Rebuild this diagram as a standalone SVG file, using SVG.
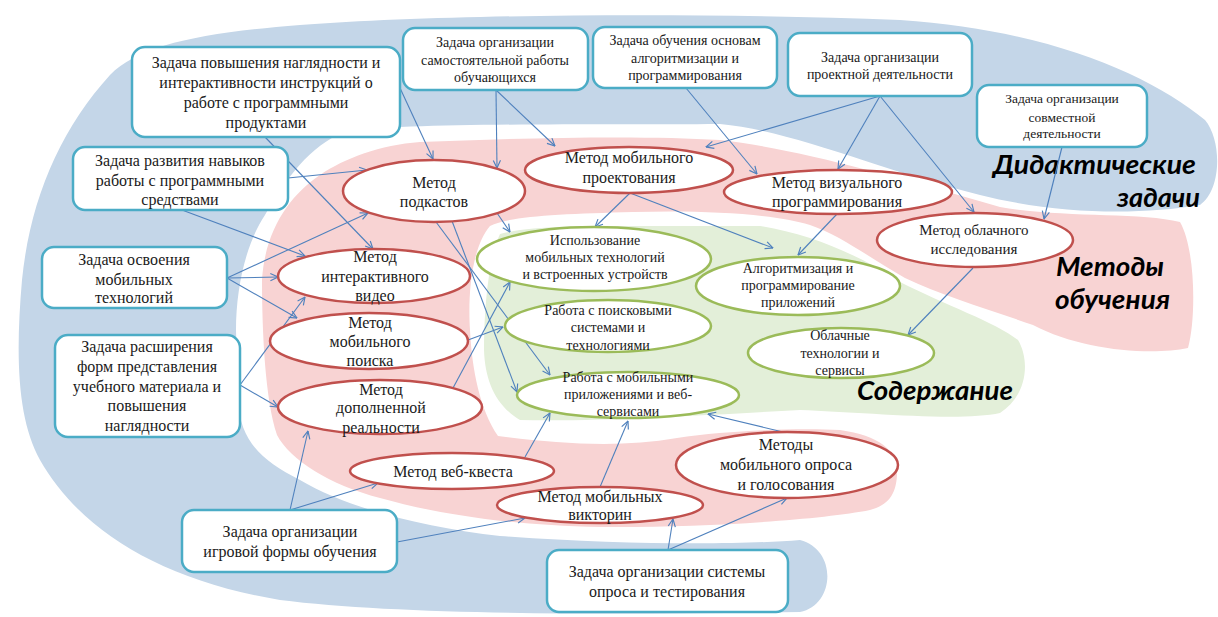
<svg xmlns="http://www.w3.org/2000/svg" width="1218" height="617" viewBox="0 0 1218 617">
<style>
.t{font-family:"Liberation Serif","Times New Roman",serif;fill:#1a1a1a;text-anchor:middle}
.s16{font-size:16px}.s15{font-size:15px}.s14{font-size:14px}.s13{font-size:13.5px}
.box{fill:#fff;stroke:#4bacc6;stroke-width:2.5}
.me{fill:#fff;stroke:#c0504d;stroke-width:2.5}
.co{fill:#fff;stroke:#9bbb59;stroke-width:2.5}
.lbl{font-family:Lato,"Open Sans",sans-serif;font-weight:bold;font-style:italic;font-size:26px;fill:#000}
.c{fill:none;stroke:#4f81bd;stroke-width:1.1;marker-end:url(#a)}
</style>
<defs>
<marker id="a" viewBox="0 0 10 10" refX="9.5" refY="5" markerWidth="9" markerHeight="9" markerUnits="userSpaceOnUse" orient="auto">
<path d="M1,1 L9.5,5 L1,9" fill="none" stroke="#4f81bd" stroke-width="1.3"/>
</marker>
</defs>
<g id="backgrounds">
<path id="bg-tasks" fill="#c4d6e8" d="M800,540 C740,545 620,545 500,536 C430,528 350,510 300,480 C260,460 240,440 238,400 L236,330 C236,290 245,245 265,215 C285,180 310,145 345,132 C400,122 600,125 720,124 C790,130 880,170 980,195 C1060,215 1140,215 1200,205 C1222,190 1222,140 1205,120 C1150,75 1050,30 900,20 C700,12 450,14 300,25 C200,33 140,45 110,75 C60,130 30,200 22,280 C15,360 18,420 40,460 C80,530 160,580 280,600 C400,615 600,615 800,612 C835,605 838,550 800,540 Z"/>
<path id="bg-methods" fill="#f8d3d3" d="M420,142 C520,138 640,135 720,140 C790,148 880,172 1000,207 C1060,218 1140,212 1180,222 C1196,250 1196,320 1188,348 C1150,356 1080,350 1033,325 C990,310 940,295 905,278 C870,258 840,235 810,225 C770,213 700,210 633,212 C560,214 510,216 490,226 C470,250 468,300 470,330 C472,370 480,410 498,436 C560,444 620,448 677,438 C730,430 800,428 840,430 C880,436 898,450 897,475 C896,495 888,505 870,510 C820,520 700,528 600,527 C500,525 430,512 380,498 C330,485 290,460 277,435 C265,400 262,330 262,280 C265,230 290,195 320,175 C345,158 380,145 420,142 Z"/>
<path id="bg-content" fill="#e3efd9" d="M500,234 C530,226 580,226 640,226 L760,226 C810,234 860,255 900,282 C945,305 995,322 1018,340 C1030,360 1028,395 1000,413 C960,422 860,412 800,410 C720,414 600,422 520,420 C495,405 485,380 484,350 C484,310 488,260 500,234 Z"/>
</g>
<g id="labels">
<text class="lbl" x="993" y="174" textLength="203" lengthAdjust="spacingAndGlyphs">Дидактические</text>
<text class="lbl" x="1117" y="207" textLength="83" lengthAdjust="spacingAndGlyphs">задачи</text>
<text class="lbl" x="1056" y="276" textLength="108" lengthAdjust="spacingAndGlyphs">Методы</text>
<text class="lbl" x="1055" y="309" textLength="115" lengthAdjust="spacingAndGlyphs">обучения</text>
<text class="lbl" x="857" y="400" textLength="156" lengthAdjust="spacingAndGlyphs">Содержание</text>
</g>
<g id="connectors">
<line class="c" x1="265" y1="137" x2="373" y2="249"/>
<line class="c" x1="400" y1="88" x2="433" y2="159"/>
<line class="c" x1="496" y1="90" x2="497" y2="168"/>
<line class="c" x1="496" y1="90" x2="555" y2="146"/>
<line class="c" x1="686" y1="88" x2="757" y2="174"/>
<line class="c" x1="880" y1="96" x2="706" y2="147"/>
<line class="c" x1="880" y1="96" x2="838" y2="169"/>
<line class="c" x1="880" y1="96" x2="974" y2="212"/>
<line class="c" x1="1062" y1="147" x2="1044" y2="219"/>
<line class="c" x1="288" y1="178" x2="367" y2="170"/>
<line class="c" x1="182" y1="210" x2="305" y2="256"/>
<line class="c" x1="227" y1="278" x2="368" y2="213"/>
<line class="c" x1="227" y1="278" x2="278" y2="277"/>
<line class="c" x1="227" y1="278" x2="297" y2="318"/>
<line class="c" x1="240" y1="385" x2="305" y2="297"/>
<line class="c" x1="240" y1="385" x2="278" y2="407"/>
<line class="c" x1="290" y1="510" x2="308" y2="431"/>
<line class="c" x1="290" y1="510" x2="378" y2="483"/>
<line class="c" x1="397" y1="542" x2="525" y2="518"/>
<line class="c" x1="668" y1="550" x2="673" y2="519"/>
<line class="c" x1="668" y1="550" x2="787" y2="498"/>
<line class="c" x1="497" y1="213" x2="510" y2="232"/>
<line class="c" x1="436" y1="222" x2="550" y2="375"/>
<line class="c" x1="452" y1="221" x2="517" y2="392"/>
<line class="c" x1="468" y1="340" x2="503" y2="327"/>
<line class="c" x1="453" y1="388" x2="510" y2="282"/>
<line class="c" x1="525" y1="457" x2="550" y2="413"/>
<line class="c" x1="600" y1="487" x2="628" y2="421"/>
<line class="c" x1="783" y1="432" x2="708" y2="414"/>
<line class="c" x1="630" y1="193" x2="595" y2="227"/>
<line class="c" x1="630" y1="193" x2="773" y2="248"/>
<line class="c" x1="837" y1="214" x2="798" y2="255"/>
<line class="c" x1="973" y1="268" x2="908" y2="335"/>
</g>
<g id="task-visibility">
<rect class="box" x="132" y="47" width="268" height="90" rx="13"/>
<text class="t s16"><tspan x="266" y="68">Задача повышения наглядности и</tspan><tspan x="266" y="88">интерактивности инструкций о</tspan><tspan x="266" y="108">работе с программными</tspan><tspan x="266" y="128">продуктами</tspan></text>
</g>
<g id="task-skills">
<rect class="box" x="73" y="147" width="215" height="63" rx="12"/>
<text class="t s16"><tspan x="180" y="166">Задача развития навыков</tspan><tspan x="180" y="186">работы с программными</tspan><tspan x="180" y="205">средствами</tspan></text>
</g>
<g id="task-mobile">
<rect class="box" x="42" y="247" width="185" height="61" rx="12"/>
<text class="t s16"><tspan x="134" y="265">Задача освоения</tspan><tspan x="134" y="285">мобильных</tspan><tspan x="134" y="303">технологий</tspan></text>
</g>
<g id="task-forms">
<rect class="box" x="55" y="335" width="185" height="102" rx="13"/>
<text class="t s16"><tspan x="147" y="352">Задача расширения</tspan><tspan x="147" y="372">форм представления</tspan><tspan x="147" y="392">учебного материала и</tspan><tspan x="147" y="411">повышения</tspan><tspan x="147" y="431">наглядности</tspan></text>
</g>
<g id="task-selfwork">
<rect class="box" x="403" y="28" width="185" height="62" rx="12"/>
<text class="t s14"><tspan x="495" y="47">Задача организации</tspan><tspan x="495" y="65">самостоятельной работы</tspan><tspan x="495" y="82">обучающихся</tspan></text>
</g>
<g id="task-algo">
<rect class="box" x="593" y="27" width="184" height="61" rx="12"/>
<text class="t s14"><tspan x="685" y="45">Задача обучения основам</tspan><tspan x="685" y="63">алгоритмизации и</tspan><tspan x="685" y="80">программирования</tspan></text>
</g>
<g id="task-project">
<rect class="box" x="788" y="33" width="184" height="63" rx="12"/>
<text class="t s14"><tspan x="880" y="62">Задача организации</tspan><tspan x="880" y="79">проектной деятельности</tspan></text>
</g>
<g id="task-joint">
<rect class="box" x="977" y="85" width="170" height="62" rx="12"/>
<text class="t s13"><tspan x="1062" y="103">Задача организации</tspan><tspan x="1062" y="122">совместной</tspan><tspan x="1062" y="138">деятельности</tspan></text>
</g>
<g id="task-game">
<rect class="box" x="182" y="510" width="215" height="62" rx="12"/>
<text class="t s16"><tspan x="290" y="537">Задача организации</tspan><tspan x="290" y="557">игровой формы обучения</tspan></text>
</g>
<g id="task-survey">
<rect class="box" x="547" y="550" width="241" height="62" rx="12"/>
<text class="t s16"><tspan x="667" y="577">Задача организации системы</tspan><tspan x="667" y="597">опроса и тестирования</tspan></text>
</g>
<g id="m-podcast">
<ellipse class="me" cx="434" cy="191" rx="91" ry="31"/>
<text class="t s16"><tspan x="434" y="188">Метод</tspan><tspan x="434" y="207">подкастов</tspan></text>
</g>
<g id="m-mobproj">
<ellipse class="me" cx="629" cy="170" rx="104" ry="23"/>
<text class="t s16"><tspan x="629" y="163">Метод мобильного</tspan><tspan x="629" y="183">проектования</tspan></text>
</g>
<g id="m-visual">
<ellipse class="me" cx="838" cy="192" rx="114" ry="22"/>
<text class="t s16"><tspan x="837" y="188">Метод визуального</tspan><tspan x="837" y="207">программирования</tspan></text>
</g>
<g id="m-cloud">
<ellipse class="me" cx="975" cy="240" rx="98" ry="27"/>
<text class="t s15"><tspan x="974" y="235">Метод облачного</tspan><tspan x="974" y="254">исследования</tspan></text>
</g>
<g id="m-video">
<ellipse class="me" cx="374" cy="276" rx="96" ry="27"/>
<text class="t s16"><tspan x="375" y="262">Метод</tspan><tspan x="375" y="282">интерактивного</tspan><tspan x="375" y="301">видео</tspan></text>
</g>
<g id="m-search">
<ellipse class="me" cx="369" cy="341" rx="99" ry="28"/>
<text class="t s16"><tspan x="370" y="328">Метод</tspan><tspan x="370" y="347">мобильного</tspan><tspan x="370" y="366">поиска</tspan></text>
</g>
<g id="m-ar">
<ellipse class="me" cx="380" cy="407" rx="102" ry="27"/>
<text class="t s16"><tspan x="381" y="395">Метод</tspan><tspan x="381" y="413">дополненной</tspan><tspan x="381" y="433">реальности</tspan></text>
</g>
<g id="m-quest">
<ellipse class="me" cx="452" cy="471" rx="102" ry="18"/>
<text class="t s16" x="453" y="477">Метод веб-квеста</text>
</g>
<g id="m-quiz">
<ellipse class="me" cx="600" cy="505" rx="103" ry="18"/>
<text class="t s16"><tspan x="600" y="502">Метод мобильных</tspan><tspan x="600" y="520">викторин</tspan></text>
</g>
<g id="m-poll">
<ellipse class="me" cx="787" cy="465" rx="111" ry="33"/>
<text class="t s16"><tspan x="786" y="450">Методы</tspan><tspan x="786" y="470">мобильного опроса</tspan><tspan x="786" y="490">и голосования</tspan></text>
</g>
<g id="c-mobiletech">
<ellipse class="co" cx="594" cy="259" rx="117" ry="32"/>
<text class="t s14"><tspan x="595" y="245">Использование</tspan><tspan x="595" y="262">мобильных технологий</tspan><tspan x="595" y="279">и встроенных устройств</tspan></text>
</g>
<g id="c-search">
<ellipse class="co" cx="608" cy="326" rx="103" ry="26"/>
<text class="t s14"><tspan x="608" y="315">Работа с поисковыми</tspan><tspan x="608" y="332">системами и</tspan><tspan x="608" y="350">технологиями</tspan></text>
</g>
<g id="c-apps">
<ellipse class="co" cx="628" cy="395" rx="111" ry="23"/>
<text class="t s14"><tspan x="628" y="382">Работа с мобильными</tspan><tspan x="628" y="399">приложениями и веб-</tspan><tspan x="628" y="416">сервисами</tspan></text>
</g>
<g id="c-algo">
<ellipse class="co" cx="798" cy="286" rx="102" ry="29"/>
<text class="t s14"><tspan x="798" y="273">Алгоритмизация и</tspan><tspan x="798" y="290">программирование</tspan><tspan x="798" y="307">приложений</tspan></text>
</g>
<g id="c-cloud">
<ellipse class="co" cx="841" cy="353" rx="93" ry="25"/>
<text class="t s14"><tspan x="840" y="340">Облачные</tspan><tspan x="840" y="358">технологии и</tspan><tspan x="840" y="375">сервисы</tspan></text>
</g>
</svg>
